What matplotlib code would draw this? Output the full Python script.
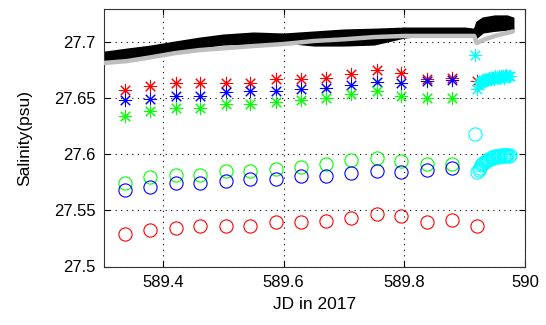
"""Salinity time series: CTD profiles vs. bottle samples, JD 589 (2017)."""
import matplotlib
matplotlib.use("Agg")
import matplotlib.pyplot as plt

plt.rcParams["font.family"] = ["Liberation Sans", "DejaVu Sans"]

OUT_PNG = "out.png"

# ── hourly samples (stars = bottle, circles = sensor) ─────────────────────
JD_HOURLY = [589.337, 589.379, 589.421, 589.462, 589.504, 589.545, 589.587,
             589.629, 589.670, 589.712, 589.754, 589.795, 589.837, 589.879,
             589.920]

RED_STAR   = [27.6567, 27.6603, 27.6632, 27.6632, 27.6632, 27.6632, 27.6668,
              27.6668, 27.6680, 27.6710, 27.6750, 27.6716, 27.6668, 27.6680,
              27.6645]
BLUE_STAR  = [27.6478, 27.6490, 27.6513, 27.6520, 27.6550, 27.6560, 27.6560,
              27.6580, 27.6590, 27.6610, 27.6640, 27.6630, 27.6650, 27.6656]
GREEN_STAR = [27.6335, 27.6382, 27.6412, 27.6412, 27.6442, 27.6442, 27.6466,
              27.6478, 27.6496, 27.6531, 27.6560, 27.6520, 27.6496, 27.6496]

GREEN_CIRC = [27.5745, 27.5793, 27.5811, 27.5817, 27.5847, 27.5847, 27.5865,
              27.5889, 27.5907, 27.5949, 27.5967, 27.5937, 27.5907, 27.5907]
BLUE_CIRC  = [27.5680, 27.5709, 27.5740, 27.5740, 27.5757, 27.5775, 27.5775,
              27.5805, 27.5805, 27.5829, 27.5853, 27.5841, 27.5859, 27.5877]
RED_CIRC   = [27.5290, 27.5327, 27.5345, 27.5356, 27.5356, 27.5356, 27.5392,
              27.5392, 27.5404, 27.5434, 27.5464, 27.5446, 27.5392, 27.5416,
              27.5363]

# ── dense cyan burst at the end ───────────────────────────────────────────
JD_CYAN = [589.918, 589.921, 589.923, 589.925, 589.927, 589.929, 589.931,
           589.933, 589.935, 589.937, 589.939, 589.941, 589.943, 589.945,
           589.947, 589.949, 589.951, 589.953, 589.955, 589.957, 589.959,
           589.961, 589.963, 589.965, 589.967, 589.969, 589.971, 589.973,
           589.975]
CYAN_STAR = [27.688, 27.658, 27.661, 27.663, 27.664, 27.665, 27.666, 27.665,
             27.667, 27.666, 27.667, 27.668, 27.667, 27.668, 27.668, 27.667,
             27.669, 27.668, 27.668, 27.669, 27.668, 27.669, 27.669, 27.668,
             27.669, 27.670, 27.669, 27.669, 27.669]
CYAN_CIRC = [27.618, 27.584, 27.586, 27.588, 27.590, 27.591, 27.592, 27.593,
             27.594, 27.595, 27.595, 27.596, 27.596, 27.597, 27.597, 27.597,
             27.598, 27.598, 27.597, 27.598, 27.598, 27.599, 27.598, 27.599,
             27.598, 27.599, 27.599, 27.598, 27.599]

# ── continuous records (black band envelope, gray line) ───────────────────
JD_CONT  = [589.303, 589.340, 589.380, 589.420, 589.460, 589.500, 589.550,
            589.600, 589.650, 589.700, 589.750, 589.800, 589.850, 589.900,
            589.916, 589.920, 589.930, 589.950, 589.970, 589.980]
BLACK_HI = [27.6906, 27.6933, 27.6960, 27.6996, 27.7030, 27.7058, 27.7076,
            27.7067, 27.7085, 27.7103, 27.7110, 27.7120, 27.7120, 27.7120,
            27.7110, 27.7174, 27.7210, 27.7228, 27.7228, 27.7210]
BLACK_LO = [27.6810, 27.6844, 27.6880, 27.6915, 27.6950, 27.6978, 27.6987,
            27.6996, 27.6969, 27.6969, 27.6978, 27.7040, 27.7067, 27.7076,
            27.7067, 27.7040, 27.7085, 27.7100, 27.7110, 27.7110]
GRAY     = [27.6810, 27.6826, 27.6860, 27.6897, 27.6924, 27.6940, 27.6960,
            27.6978, 27.7005, 27.7020, 27.7040, 27.7050, 27.7050, 27.7050,
            27.7050, 27.6987, 27.7013, 27.7050, 27.7076, 27.7090]

STAR = (8, 2, 0)   # MATLAB-like '*' asterisk


def main() -> None:
    fig = plt.figure(figsize=(5.46, 3.25), dpi=100)
    ax = fig.add_axes([0.1905, 0.18, 0.771, 0.7925])

    # continuous records
    ax.fill_between(JD_CONT, BLACK_LO, BLACK_HI, color="black", lw=1.5,
                    edgecolor="black", zorder=2)
    ax.plot(JD_CONT, GRAY, color="#bebebe", lw=3.2, zorder=3,
            solid_capstyle="round")

    # hourly samples
    star_kw = dict(ls="none", marker=STAR, ms=9.5, mew=0.75, zorder=4)
    circ_kw = dict(ls="none", marker="o", ms=9.5, mew=0.8, mfc="none", zorder=4)
    ax.plot(JD_HOURLY, RED_STAR, color="red", **star_kw)
    ax.plot(JD_HOURLY[:14], BLUE_STAR, color="blue", **star_kw)
    ax.plot(JD_HOURLY[:14], GREEN_STAR, color="#00ff00", **star_kw)
    ax.plot(JD_HOURLY[:14], GREEN_CIRC, color="#00ff00", mec="#00ff00", **circ_kw)
    ax.plot(JD_HOURLY[:14], BLUE_CIRC, color="blue", mec="blue", **circ_kw)
    ax.plot(JD_HOURLY, RED_CIRC, color="red", mec="red", **circ_kw)

    # cyan burst
    ax.plot(JD_CYAN, CYAN_STAR, color="cyan", **star_kw)
    ax.plot(JD_CYAN, CYAN_CIRC, color="cyan", mec="cyan", **circ_kw)

    ax.set_xlim(589.3025, 590.0)
    ax.set_ylim(27.5, 27.729)
    ax.set_xticks([589.4, 589.6, 589.8, 590.0])
    ax.set_xticklabels(["589.4", "589.6", "589.8", "590"])
    ax.set_yticks([27.5, 27.55, 27.6, 27.65, 27.7])
    ax.set_yticklabels(["27.5", "27.55", "27.6", "27.65", "27.7"])
    ax.tick_params(direction="in", top=True, right=True, labelsize=12,
                   length=4, width=0.8, pad=6)
    ax.grid(True, color="black", ls=(0, (1, 4)), lw=0.8)
    for sp in ax.spines.values():
        sp.set_linewidth(0.8)
        sp.set_color("#333333")

    ax.set_xlabel("JD in 2017", fontsize=12.5, labelpad=5)
    ax.set_ylabel("Salinity(psu)", fontsize=12.5, labelpad=16)

    fig.savefig(OUT_PNG, dpi=100)
    plt.close(fig)


if __name__ == "__main__":
    main()
